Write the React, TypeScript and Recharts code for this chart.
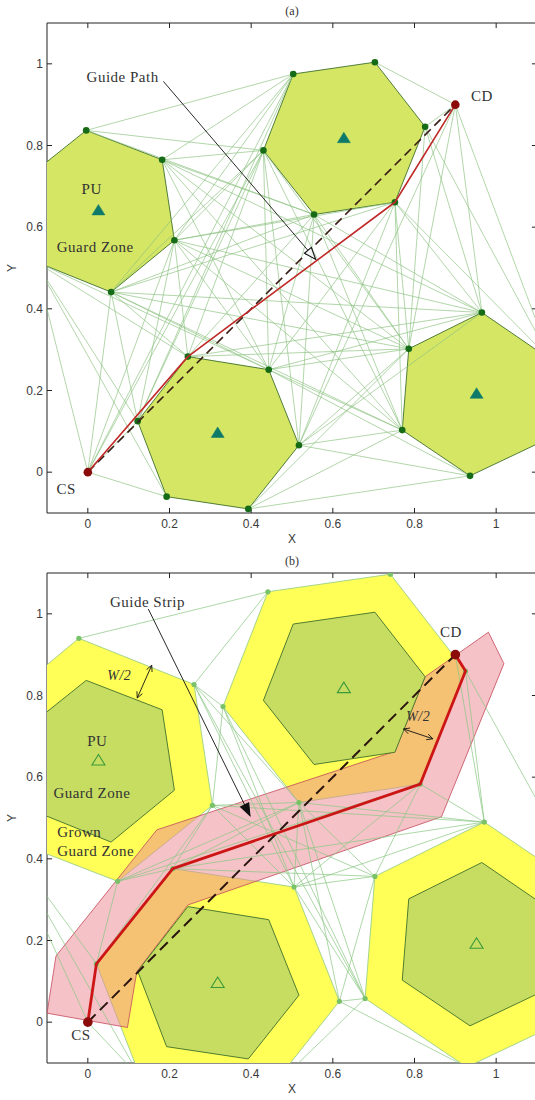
import React from 'react';
import { ScatterChart, Scatter, XAxis, YAxis, ReferenceLine, Label } from 'recharts';

type Pt = { x: number; y: number };

// ---------- shared data ----------
const xTicks = [0, 0.2, 0.4, 0.6, 0.8, 1];
const yTicks = [0, 0.2, 0.4, 0.6, 0.8, 1];
const csPt: Pt = { x: 0, y: 0 };
const cdPt: Pt = { x: 0.9, y: 0.9 };
const puCenters: Pt[] = [
  { x: 0.026, y: 0.641 }, { x: 0.627, y: 0.818 }, { x: 0.318, y: 0.096 }, { x: 0.952, y: 0.192 },
];

// guard zones (inner hexagons)
const guardA: Pt[] = [
  { x: -0.004, y: 0.837 }, { x: 0.182, y: 0.765 }, { x: 0.212, y: 0.568 },
  { x: 0.057, y: 0.441 }, { x: -0.129, y: 0.516 }, { x: -0.159, y: 0.713 },
];
const guardB: Pt[] = [
  { x: 0.503, y: 0.975 }, { x: 0.703, y: 1.004 }, { x: 0.826, y: 0.846 },
  { x: 0.752, y: 0.661 }, { x: 0.554, y: 0.631 }, { x: 0.43, y: 0.788 },
];
const guardC: Pt[] = [
  { x: 0.245, y: 0.283 }, { x: 0.443, y: 0.251 }, { x: 0.517, y: 0.066 },
  { x: 0.393, y: -0.09 }, { x: 0.193, y: -0.06 }, { x: 0.122, y: 0.125 },
];
const guardD: Pt[] = [
  { x: 0.965, y: 0.391 }, { x: 0.786, y: 0.302 }, { x: 0.77, y: 0.103 },
  { x: 0.936, y: -0.009 }, { x: 1.115, y: 0.076 }, { x: 1.134, y: 0.275 },
];

// grown guard zones (panel b)
const grownA: Pt[] = [
  { x: -0.022, y: 0.94 }, { x: 0.26, y: 0.827 }, { x: 0.305, y: 0.531 },
  { x: 0.073, y: 0.345 }, { x: -0.206, y: 0.453 }, { x: -0.252, y: 0.749 },
];
const grownB: Pt[] = [
  { x: 0.441, y: 1.054 }, { x: 0.741, y: 1.097 }, { x: 0.925, y: 0.86 },
  { x: 0.814, y: 0.583 }, { x: 0.517, y: 0.538 }, { x: 0.331, y: 0.773 },
];
const grownC: Pt[] = [
  { x: 0.208, y: 0.376 }, { x: 0.505, y: 0.331 }, { x: 0.616, y: 0.051 },
  { x: 0.43, y: -0.183 }, { x: 0.13, y: -0.138 }, { x: 0.021, y: 0.143 },
];
const grownD: Pt[] = [
  { x: 0.971, y: 0.49 }, { x: 0.703, y: 0.357 }, { x: 0.679, y: 0.058 },
  { x: 0.928, y: -0.11 }, { x: 1.197, y: 0.018 }, { x: 1.225, y: 0.317 },
];

const guideStrip: Pt[] = [
  { x: -0.1, y: 0.022 }, { x: 0.097, y: -0.013 }, { x: 0.12, y: 0.124 }, { x: 0.245, y: 0.287 },
  { x: 0.866, y: 0.503 }, { x: 1.019, y: 0.878 }, { x: 0.981, y: 0.955 }, { x: 0.826, y: 0.846 },
  { x: 0.752, y: 0.663 }, { x: 0.169, y: 0.471 }, { x: -0.078, y: 0.162 },
];

const pathA: Pt[] = [csPt, { x: 0.245, y: 0.283 }, { x: 0.752, y: 0.661 }, cdPt];
const pathB: Pt[] = [csPt, { x: 0.021, y: 0.143 }, { x: 0.208, y: 0.376 }, { x: 0.814, y: 0.583 }, { x: 0.925, y: 0.86 }, cdPt];
const guideLine: Pt[] = [csPt, cdPt];

// visibility graph edges
const visEdgesA: [string, string][] = [
  ['CS', 'A3'], ['CS', 'A4'], ['CS', 'A5'], ['CS', 'B1'], ['CS', 'B6'], ['CS', 'C5'], ['CS', 'C6'], ['CS', 'C1'],
  ['CD', 'B2'], ['CD', 'B3'], ['CD', 'B4'], ['CD', 'C3'], ['CD', 'D1'], ['CD', 'D2'], ['CD', 'D6'],
  ['A1', 'B1'], ['A1', 'B5'], ['A1', 'B6'],
  ['A2', 'B1'], ['A2', 'B5'], ['A2', 'B6'], ['A2', 'C2'], ['A2', 'D1'], ['A2', 'D2'], ['A2', 'D3'],
  ['A3', 'B1'], ['A3', 'B4'], ['A3', 'B5'], ['A3', 'B6'], ['A3', 'C1'], ['A3', 'C2'], ['A3', 'C6'], ['A3', 'D1'], ['A3', 'D2'], ['A3', 'D3'],
  ['A4', 'B1'], ['A4', 'B4'], ['A4', 'B5'], ['A4', 'B6'], ['A4', 'C1'], ['A4', 'C2'], ['A4', 'C6'], ['A4', 'D1'], ['A4', 'D2'], ['A4', 'D3'],
  ['A5', 'C1'], ['A5', 'C2'], ['A5', 'C5'], ['A5', 'C6'],
  ['B1', 'C6'],
  ['B3', 'D1'], ['B3', 'D2'], ['B3', 'D6'],
  ['B4', 'C1'], ['B4', 'C2'], ['B4', 'C3'], ['B4', 'D1'], ['B4', 'D2'], ['B4', 'D3'], ['B4', 'D6'],
  ['B5', 'C1'], ['B5', 'C2'], ['B5', 'C3'], ['B5', 'D1'], ['B5', 'D2'], ['B5', 'D3'],
  ['B6', 'C1'], ['B6', 'C2'], ['B6', 'C3'], ['B6', 'C6'], ['B6', 'D2'], ['B6', 'D3'],
  ['C1', 'D1'], ['C1', 'D2'],
  ['C2', 'D1'], ['C2', 'D2'], ['C2', 'D3'], ['C2', 'D4'],
  ['C3', 'D1'], ['C3', 'D2'], ['C3', 'D3'], ['C3', 'D4'],
  ['C4', 'D2'], ['C4', 'D3'], ['C4', 'D4'],
];
const visEdgesB: [string, string][] = [
  ['A1', 'B1'], ['A2', 'B1'], ['A2', 'B6'], ['A2', 'B5'], ['A2', 'C2'], ['A2', 'D3'],
  ['B6', 'A3'], ['B6', 'C2'], ['B6', 'D3'],
  ['A3', 'B5'], ['A3', 'C1'], ['A3', 'C2'], ['A3', 'C6'], ['A3', 'D1'], ['A3', 'D2'],
  ['A4', 'C1'], ['A4', 'B5'], ['A4', 'B4'], ['A4', 'C6'],
  ['A5', 'CS'], ['A5', 'C6'], ['A5', 'C5'], ['CS', 'C5'],
  ['C1', 'B5'], ['C1', 'D1'], ['C1', 'D2'],
  ['C2', 'B5'], ['C2', 'B4'], ['C2', 'D1'], ['C2', 'D2'], ['C2', 'D3'],
  ['C3', 'B5'], ['C3', 'D2'], ['C3', 'D3'], ['C3', 'D4'],
  ['D3', 'B5'], ['D3', 'C4'], ['D2', 'B5'], ['D2', 'B4'],
  ['D1', 'B5'], ['D1', 'B4'], ['D1', 'B3'], ['D1', 'CD'], ['B3', 'D6'],
];

// annotations
const labelsA = [
  { x: -0.003, y: 0.968, text: 'Guide Path', anchor: 'start' },
  { x: 0.965, y: 0.922, text: 'CD', anchor: 'middle' },
  { x: 0.0095, y: 0.694, text: 'PU', anchor: 'middle' },
  { x: 0.018, y: 0.551, text: 'Guard Zone', anchor: 'middle' },
  { x: -0.053, y: -0.041, text: 'CS', anchor: 'middle' },
];
const labelsB = [
  { x: 0.054, y: 1.029, text: 'Guide Strip', anchor: 'start' },
  { x: 0.889, y: 0.957, text: 'CD', anchor: 'middle' },
  { x: 0.023, y: 0.688, text: 'PU', anchor: 'middle' },
  { x: 0.01, y: 0.561, text: 'Guard Zone', anchor: 'middle' },
  { x: -0.075, y: 0.466, text: 'Grown', anchor: 'start' },
  { x: -0.075, y: 0.42, text: 'Guard Zone', anchor: 'start' },
  { x: -0.017, y: -0.032, text: 'CS', anchor: 'middle' },
];
const labelsW = [
  { x: 0.077, y: 0.851, text: 'W/2', anchor: 'middle' },
  { x: 0.809, y: 0.749, text: 'W/2', anchor: 'middle' },
];
const arrowGuidePath: Pt[] = [{ x: 0.185, y: 0.957 }, { x: 0.558, y: 0.521 }];
const arrowGuideStrip: Pt[] = [{ x: 0.148, y: 1.012 }, { x: 0.397, y: 0.506 }];
const arrowW1: Pt[] = [{ x: 0.1565, y: 0.874 }, { x: 0.121, y: 0.794 }];
const arrowW2: Pt[] = [{ x: 0.773, y: 0.718 }, { x: 0.845, y: 0.694 }];

// ---------- helpers ----------
const nodeMap = (hexes: Pt[][]) => {
  const m: Record<string, Pt> = { CS: csPt, CD: cdPt };
  hexes.forEach((h, hi) => h.forEach((p, i) => { m['ABCD'[hi] + (i + 1)] = p; }));
  return m;
};
const edgePts = (edges: [string, string][], m: Record<string, Pt>) => edges.flatMap(([u, v]) => [m[u], m[v]]);

const tickLen = 0.0125;
const tickSegs: Pt[] = [
  ...xTicks.flatMap((t) => [{ x: t, y: -0.1 }, { x: t, y: -0.1 + tickLen }, { x: t, y: 1.1 }, { x: t, y: 1.1 - tickLen }]),
  ...yTicks.flatMap((t) => [{ x: -0.1, y: t }, { x: -0.1 + tickLen, y: t }, { x: 1.1, y: t }, { x: 1.1 - tickLen, y: t }]),
];

const blank = () => <g />;
const pathD = (pts: any[], close: boolean) =>
  pts.map((q, i) => `${i ? 'L' : 'M'}${q.x.toFixed(2)},${q.y.toFixed(2)}`).join('') + (close ? 'Z' : '');
const polyR = (fill: string, stroke: string, sw: number, fo = 1) => (p: any) => (
  <path d={pathD(p.points, true)} fill={fill} fillOpacity={fo} stroke={stroke} strokeWidth={sw} strokeLinejoin="round" />
);
const lineR = (stroke: string, sw: number, dash?: string) => (p: any) => (
  <path d={pathD(p.points, false)} fill="none" stroke={stroke} strokeWidth={sw} strokeDasharray={dash} strokeLinejoin="round" />
);
const segR = (stroke: string, sw: number, op = 1) => (p: any) => {
  const q = p.points;
  let d = '';
  for (let i = 0; i + 1 < q.length; i += 2) d += `M${q[i].x.toFixed(2)},${q[i].y.toFixed(2)}L${q[i + 1].x.toFixed(2)},${q[i + 1].y.toFixed(2)}`;
  return <path d={d} fill="none" stroke={stroke} strokeWidth={sw} strokeOpacity={op} />;
};
const headPts = (tip: any, from: any, len: number, half: number) => {
  const dx = tip.x - from.x, dy = tip.y - from.y;
  const L = Math.hypot(dx, dy) || 1;
  const ux = dx / L, uy = dy / L;
  const bx = tip.x - ux * len, by = tip.y - uy * len;
  return [{ x: bx - uy * half, y: by + ux * half }, tip, { x: bx + uy * half, y: by - ux * half }];
};
const arrowR = (kind: 'open' | 'filled' | 'double') => (p: any) => {
  const [a, b] = p.points;
  if (kind === 'double') {
    const h1 = headPts(b, a, 6, 3);
    const h2 = headPts(a, b, 6, 3);
    return (
      <g fill="none" stroke="#111" strokeWidth={0.9}>
        <path d={pathD([a, b], false)} />
        <path d={pathD(h1, false)} />
        <path d={pathD(h2, false)} />
      </g>
    );
  }
  const h = headPts(b, a, 12, 4.5);
  return (
    <g>
      <path d={pathD([a, b], false)} stroke="#111" strokeWidth={0.9} fill="none" />
      <path d={pathD(h, true)} fill={kind === 'open' ? '#f4f4f4' : '#111'} stroke="#111" strokeWidth={1.1} />
    </g>
  );
};
const dotShape = (r: number, fill: string) => (p: any) => <circle cx={p.cx} cy={p.cy} r={r} fill={fill} />;
const triShape = (fill: string, stroke: string, sw: number) => (p: any) => (
  <path d={`M${p.cx},${p.cy - 6}L${p.cx + 6.5},${p.cy + 4.5}L${p.cx - 6.5},${p.cy + 4.5}Z`} fill={fill} stroke={stroke} strokeWidth={sw} />
);
const SERIF = "'Liberation Serif', 'Times New Roman', serif";
const textShape = (size: number, italic = false) => (p: any) => (
  <text x={p.cx} y={p.cy} dy="0.35em" textAnchor={p.payload.anchor} fontFamily={SERIF} fontSize={size}
    fontStyle={italic ? 'italic' : 'normal'} fill="#333" letterSpacing={0.5}>{p.payload.text}</text>
);

const S = (key: string, data: any[], line: any, shape: any = blank) => (
  <Scatter key={key} data={data} line={line} shape={shape} isAnimationActive={false} />
);

const AX = { fontFamily: "'Liberation Sans', Arial, sans-serif", fontSize: 12, fill: '#3a3a3a' };

const frame = () => [
  <XAxis key="xa" type="number" dataKey="x" domain={[-0.1, 1.1]} ticks={xTicks} allowDataOverflow height={37}
    tickSize={0} tickMargin={6} tickLine={false} axisLine={{ stroke: '#222' }} tick={AX} interval={0}>
    <Label value="X" position="insideBottom" offset={7} fontFamily="'Liberation Sans', Arial, sans-serif" fontSize={12} fill="#3a3a3a" />
  </XAxis>,
  <YAxis key="ya" type="number" dataKey="y" domain={[-0.1, 1.1]} ticks={yTicks} allowDataOverflow width={47}
    tickSize={0} tickMargin={4} tickLine={false} axisLine={{ stroke: '#222' }} tick={AX} interval={0}>
    <Label value="Y" position="center" angle={-90} dx={-11.5} fontFamily="'Liberation Sans', Arial, sans-serif" fontSize={12} fill="#3a3a3a" />
  </YAxis>,
  <ReferenceLine key="top" y={1.1} stroke="#222" strokeWidth={1} />,
  <ReferenceLine key="right" x={1.1} stroke="#222" strokeWidth={1} />,
  S('ticks', tickSegs, segR('#222', 1)),
];

const CHART = { width: 540, height: 550, margin: { top: 23, right: 3, bottom: 0, left: 0 } };

function PanelA() {
  const nodes = nodeMap([guardA, guardB, guardC, guardD]);
  const verts = [...guardA, ...guardB, ...guardC, ...guardD];
  return (
    <ScatterChart {...CHART}>
      {frame()}
      {[guardA, guardB, guardC, guardD].map((h, i) => S('hex' + i, h, polyR('#d4e664', '#40702a', 0.9)))}
      {S('vis', edgePts(visEdgesA, nodes), segR('#8dc281', 0.8, 0.85))}
      {S('pu', puCenters, false, triShape('#0e7a6a', '#0e7a6a', 0.5))}
      {S('verts', verts, false, dotShape(3.3, '#166b16'))}
      {S('guide', guideLine, lineR('#3a1d16', 1.6, '9 5'))}
      {S('path', pathA, lineR('#c22a2a', 1.6))}
      {S('ends', [csPt, cdPt], false, dotShape(4.3, '#8b0a0a'))}
      {S('arrow', arrowGuidePath, arrowR('open'))}
      {S('labels', labelsA, false, textShape(15))}
    </ScatterChart>
  );
}

function PanelB() {
  const nodes = nodeMap([grownA, grownB, grownC, grownD]);
  const verts = [...grownA, ...grownB, ...grownC, ...grownD];
  return (
    <ScatterChart {...CHART}>
      {frame()}
      {[grownA, grownB, grownC, grownD].map((h, i) => S('ghex' + i, h, polyR('#ffff57', '#9ccf86', 0.9)))}
      {S('strip', guideStrip, polyR('#ec858f', '#c44a5c', 0.8, 0.5))}
      {[guardA, guardB, guardC, guardD].map((h, i) => S('hex' + i, h, polyR('#c6dd62', '#40702a', 0.9)))}
      {S('vis', edgePts(visEdgesB, nodes), segR('#8cc785', 0.85, 0.85))}
      {S('pu', puCenters, false, triShape('none', '#3a9a3a', 1.1))}
      {S('verts', verts, false, dotShape(2.6, '#79c26a'))}
      {S('guide', guideLine, lineR('#2b1410', 2, '11 6'))}
      {S('path', pathB, lineR('#cc1515', 2.8))}
      {S('ends', [csPt, cdPt], false, dotShape(4.8, '#8b0a0a'))}
      {S('arrow', arrowGuideStrip, arrowR('filled'))}
      {S('w1', arrowW1, arrowR('double'))}
      {S('w2', arrowW2, arrowR('double'))}
      {S('labels', labelsB, false, textShape(15))}
      {S('wl', labelsW, false, textShape(14, true))}
    </ScatterChart>
  );
}

const titleStyle: React.CSSProperties = {
  position: 'absolute', left: 271, width: 42, top: 4, textAlign: 'center',
  fontFamily: SERIF, fontSize: 12, lineHeight: '14px', color: '#333',
};

export default function App() {
  return (
    <div style={{ position: 'absolute', left: 0, top: 0, width: 535, height: 1100, overflow: 'hidden', background: '#fff' }}>
      <div style={{ position: 'absolute', left: 0, top: 0, width: 540, height: 550 }}>
        <PanelA />
        <div style={titleStyle}>(a)</div>
      </div>
      <div style={{ position: 'absolute', left: 0, top: 550, width: 540, height: 550 }}>
        <PanelB />
        <div style={titleStyle}>(b)</div>
      </div>
    </div>
  );
}
